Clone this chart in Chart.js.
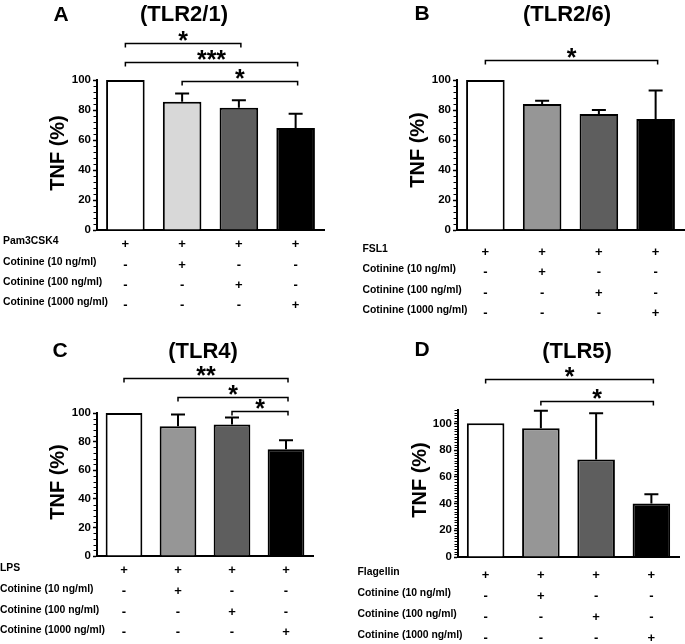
<!DOCTYPE html>
<html><head><meta charset="utf-8">
<script src="https://cdn.jsdelivr.net/npm/chart.js@4/dist/chart.umd.min.js"></script>
<style>
html,body{margin:0;padding:0;background:#fff;width:685px;height:644px;overflow:hidden}
canvas{position:absolute}
</style></head><body>
<canvas id="cA" width="342" height="322" style="left:0;top:0"></canvas>
<canvas id="cB" width="343" height="322" style="left:342px;top:0"></canvas>
<canvas id="cC" width="342" height="322" style="left:0;top:322px"></canvas>
<canvas id="cD" width="343" height="322" style="left:342px;top:322px"></canvas>
<script>
// ---------- data ----------
const categories = ['1', '2', '3', '4'];
const panelLetters = ['A', 'B', 'C', 'D'];
const panelTitles = ['(TLR2/1)', '(TLR2/6)', '(TLR4)', '(TLR5)'];
const yTitle = 'TNF (%)';
const stimuli = ['Pam3CSK4', 'FSL1', 'LPS', 'Flagellin'];
const cotinineRows = ['Cotinine (10 ng/ml)', 'Cotinine (100 ng/ml)', 'Cotinine (1000 ng/ml)'];
const stimulusSigns = ['+', '+', '+', '+'];
const cotinine10Signs = ['-', '+', '-', '-'];
const cotinine100Signs = ['-', '-', '+', '-'];
const cotinine1000Signs = ['-', '-', '-', '+'];

const tnfA = [100, 85.5, 81.5, 68];
const errA = [0, 5.5, 5, 9.5];
const tnfB = [100, 84, 77.3, 74];
const errB = [0, 2.2, 2.7, 19];
const tnfC = [100, 90.7, 91.9, 74.7];
const errC = [0, 8.3, 4.9, 6.3];
const tnfD = [100, 96.3, 73, 40];
const errD = [0, 13.2, 34.5, 7];

const yTicksMajor = [0, 20, 40, 60, 80, 100];
// significance brackets: [from bar, to bar, level (TNF %), label]
const sigA = [[0, 2, 124.5, '*'], [0, 3, 111.8, '***'], [1, 3, 99.3, '*']];
const sigB = [[0, 3, 113.3, '*']];
const sigC = [[0, 3, 124.5, '**'], [1, 3, 111.2, '*'], [2, 3, 101.4, '*']];
const sigD = [[0, 3, 133.5, '*'], [1, 3, 116.8, '*']];

// ---------- styling / layout ----------
const FONT = '"Liberation Sans", Arial, Helvetica, sans-serif';
const colorsLight = ['#ffffff', '#d8d8d8', '#5e5e5e', '#000000'];
const colorsMid = ['#ffffff', '#969696', '#5e5e5e', '#000000'];

const panels = [
  { id: 'cA', ox: 0, oy: 0, cw: 342, ch: 322, area: { l: 97, r: 324, t: 80, b: 230 }, ymax: 100, minor: 4,
    vals: tnfA, errs: errA, sig: sigA, colors: colorsLight, letter: [61, 15], title: [184, 15], ytitle: [58, 153],
    labelX: 3, rowY: [241, 262, 282, 302], signDy: 3 },
  { id: 'cB', ox: 342, oy: 0, cw: 343, ch: 322, area: { l: 457, r: 684, t: 80, b: 230 }, ymax: 100, minor: 4,
    vals: tnfB, errs: errB, sig: sigB, colors: colorsMid, letter: [80, 14], title: [225, 15], ytitle: [76, 150],
    labelX: 20.5, rowY: [249, 269, 290, 310], signDy: 3.5 },
  { id: 'cC', ox: 0, oy: 322, cw: 342, ch: 322, area: { l: 97, r: 313, t: 413, b: 556 }, ymax: 100, minor: 4,
    vals: tnfC, errs: errC, sig: sigC, colors: colorsMid, letter: [60, 29], title: [203, 30], ytitle: [58, 160],
    labelX: 0, rowY: [246, 267, 288, 308], signDy: 2.5 },
  { id: 'cD', ox: 342, oy: 322, cw: 343, ch: 322, area: { l: 458, r: 679, t: 410, b: 557 }, ymax: 110, minor: 2,
    vals: tnfD, errs: errD, sig: sigD, colors: colorsMid, letter: [80, 28], title: [235, 30], ytitle: [78, 158],
    labelX: 15.5, rowY: [250, 271, 292, 313], signDy: 3 }
];

function decorPlugin(p, idx) {
  return {
    id: 'decor' + idx,
    afterDatasetsDraw(chart) {
      const ctx = chart.ctx;
      const ys = chart.scales.y, xs = chart.scales.x;
      const meta = chart.getDatasetMeta(0);
      ctx.save();
      ctx.strokeStyle = '#000';
      // minor ticks
      ctx.lineWidth = 1;
      const ax = chart.chartArea.left;
      for (let v = 0; v <= p.ymax + 0.001; v += p.minor) {
        if (v % 20 === 0) continue;
        const y = Math.round(ys.getPixelForValue(v)) + 0.5;
        ctx.beginPath(); ctx.moveTo(ax - 1, y); ctx.lineTo(ax - 3.5, y); ctx.stroke();
      }
      // error bars (upper only)
      ctx.lineWidth = 2;
      meta.data.forEach((el, i) => {
        const e = p.errs[i];
        if (!e) return;
        const top = ys.getPixelForValue(p.vals[i] + e);
        const half = 7;
        ctx.beginPath();
        ctx.moveTo(el.x, el.y); ctx.lineTo(el.x, top);
        ctx.moveTo(el.x - half, top); ctx.lineTo(el.x + half, top);
        ctx.stroke();
      });
      // significance brackets
      ctx.lineWidth = 1.5;
      const starSize = 25;
      ctx.font = 'bold ' + starSize + 'px ' + FONT;
      ctx.fillStyle = '#000';
      ctx.textAlign = 'center';
      ctx.textBaseline = 'alphabetic';
      p.sig.forEach(([a, b, lvl, lab]) => {
        const x1 = xs.getPixelForValue(a), x2 = xs.getPixelForValue(b) + 2;
        const y = Math.round(ys.getPixelForValue(lvl)) + 0.5;
        ctx.beginPath();
        ctx.moveTo(x1, y + 4); ctx.lineTo(x1, y); ctx.lineTo(x2, y); ctx.lineTo(x2, y + 4);
        ctx.stroke();
        ctx.fillText(lab, (x1 + x2) / 2, y - 8.5 + 0.575 * starSize);
      });
      ctx.restore();
    },
    afterDraw(chart) {
      const ctx = chart.ctx;
      const xs = chart.scales.x;
      ctx.save();
      ctx.fillStyle = '#000';
      ctx.textBaseline = 'middle';
      // panel letter and title
      ctx.textAlign = 'center';
      ctx.font = 'bold 21px ' + FONT;
      ctx.fillText(panelLetters[idx], p.letter[0], p.letter[1]);
      ctx.font = 'bold 22px ' + FONT;
      ctx.fillText(panelTitles[idx], p.title[0], p.title[1]);
      // y axis title
      ctx.save();
      ctx.translate(p.ytitle[0], p.ytitle[1]);
      ctx.rotate(-Math.PI / 2);
      ctx.font = 'bold 20px ' + FONT;
      ctx.fillText(yTitle, 0, 0);
      ctx.restore();
      // treatment table
      const rows = [stimuli[idx]].concat(cotinineRows);
      const signs = [stimulusSigns, cotinine10Signs, cotinine100Signs, cotinine1000Signs];
      rows.forEach((lab, r) => {
        ctx.textAlign = 'left';
        ctx.font = 'bold 10.4px ' + FONT;
        ctx.fillText(lab, p.labelX, p.rowY[r]);
        ctx.textAlign = 'center';
        ctx.font = 'bold 13px ' + FONT;
        signs[r].forEach((s, i) => {
          ctx.fillText(s, xs.getPixelForValue(i), p.rowY[r] + p.signDy);
        });
      });
      ctx.restore();
    }
  };
}

panels.forEach((p, idx) => {
  const yW = p.area.l - p.ox;
  new Chart(document.getElementById(p.id), {
    type: 'bar',
    data: {
      labels: categories,
      datasets: [{
        data: p.vals,
        backgroundColor: p.colors,
        borderColor: '#000',
        borderWidth: 2,
        categoryPercentage: 0.68,
        barPercentage: 1
      }]
    },
    options: {
      responsive: false,
      animation: false,
      devicePixelRatio: 1,
      layout: {
        autoPadding: false,
        padding: { left: 0, top: p.area.t - p.oy, right: p.ox + p.cw - p.area.r, bottom: p.oy + p.ch - p.area.b }
      },
      plugins: { legend: { display: false }, tooltip: { enabled: false }, title: { display: false } },
      scales: {
        x: {
          type: 'category', offset: true,
          ticks: { display: false },
          grid: { display: false, drawTicks: false },
          border: { display: true, color: '#000', width: 2 },
          afterFit: s => { s.height = 0; }
        },
        y: {
          min: 0, max: p.ymax,
          ticks: {
            stepSize: 20, color: '#000', padding: 2,
            font: { family: FONT, weight: 'bold', size: 11.5 },
            callback: v => (yTicksMajor.includes(v) ? String(v) : '')
          },
          grid: {
            drawOnChartArea: false, drawTicks: true, tickLength: 4, tickWidth: 1.5,
            tickColor: c => (c.tick && yTicksMajor.includes(c.tick.value) ? '#000' : 'rgba(0,0,0,0)')
          },
          border: { display: true, color: '#000', width: 2 },
          afterFit: s => { s.width = yW; }
        }
      }
    },
    plugins: [decorPlugin(p, idx)]
  });
});
</script>
</body></html>
